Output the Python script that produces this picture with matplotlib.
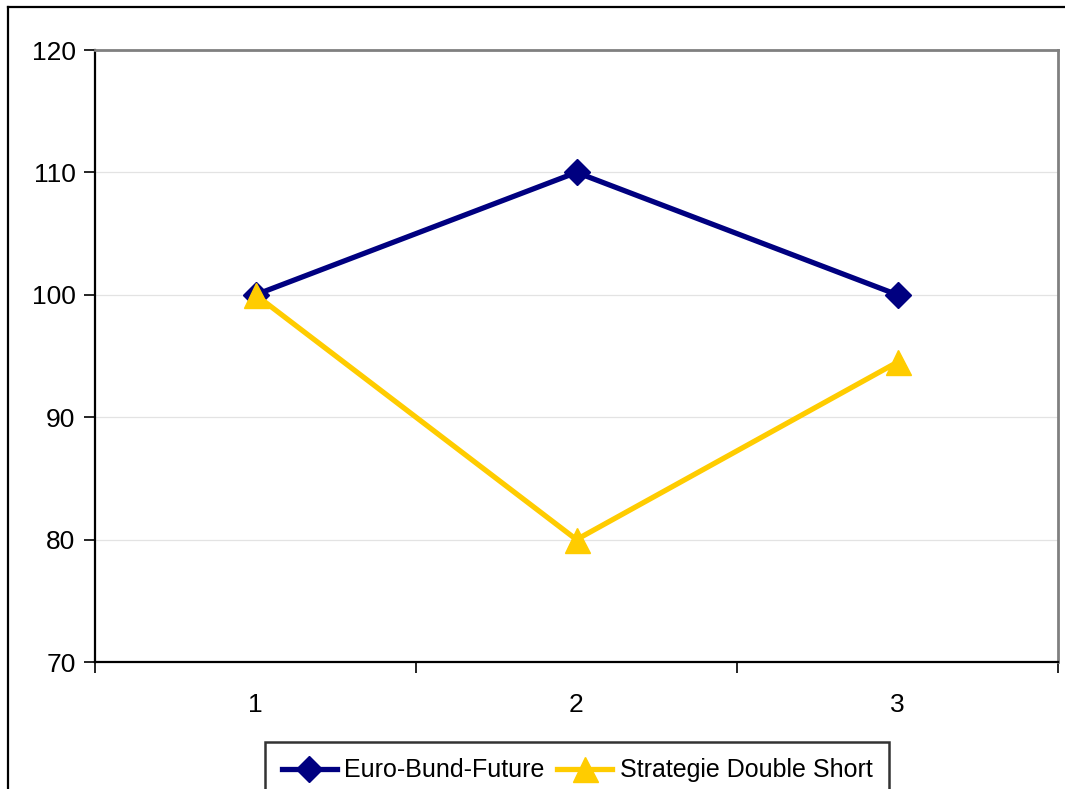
import matplotlib
matplotlib.use("Agg")
import matplotlib.pyplot as plt
from matplotlib.lines import Line2D

plt.rcParams['font.family'] = ['Liberation Sans', 'DejaVu Sans']

# data
categories = [1, 2, 3]
euro_bund = [100, 110, 100]
double_short = [100, 80, 94.5]
labels = ["Euro-Bund-Future", "Strategie Double Short"]
yticks = [70, 80, 90, 100, 110, 120]

fs = 19

fig = plt.figure(figsize=(10.65, 7.89), dpi=100)
ax = fig.add_axes([95/1065, 1-662/789, (1058-95)/1065, (662-50)/789])

ax.plot(categories, euro_bund, color="#000080", lw=3.8, marker="D",
        markersize=13, label=labels[0], zorder=3)
ax.plot(categories, double_short, color="#FFCC00", lw=3.8, marker="^",
        markersize=18, label=labels[1], zorder=3)

ax.set_xlim(0.5, 3.5)
ax.set_ylim(70, 120)
ax.set_yticks(yticks)
ax.set_yticklabels([str(v) for v in yticks], fontsize=fs)
ax.yaxis.grid(True, color="#e3e3e3", lw=0.9)
ax.set_axisbelow(True)

ax.set_xticks([0.5, 1.5, 2.5, 3.5])
ax.set_xticklabels([])
ax.set_xticks(categories, minor=True)
ax.set_xticklabels([str(c) for c in categories], minor=True, fontsize=fs)
ax.tick_params(axis="x", which="major", direction="out", length=8, width=1.2)
ax.tick_params(axis="x", which="minor", length=0, pad=22)
ax.tick_params(axis="y", direction="out", length=8, width=1.2, pad=6)

for s in ["left", "bottom"]:
    ax.spines[s].set_color("black")
    ax.spines[s].set_linewidth(1.6)
for s in ["top", "right"]:
    ax.spines[s].set_color("#808080")
    ax.spines[s].set_linewidth(2)

leg = fig.legend(loc="upper center", bbox_to_anchor=(577/1065, 1-742/789),
                 ncol=2, fontsize=18, frameon=True, fancybox=False,
                 edgecolor="black", handlelength=2.2, columnspacing=0.5,
                 handletextpad=0.3, borderpad=0.65, borderaxespad=0)
leg.get_frame().set_linewidth(1.8)

# outer chart border (left and top visible)
fig.add_artist(Line2D([8/1065, 8/1065], [0, 1-7/789], transform=fig.transFigure,
                      color="black", lw=1.6))
fig.add_artist(Line2D([8/1065, 1], [1-7/789, 1-7/789], transform=fig.transFigure,
                      color="black", lw=1.6))

fig.savefig("out.png", dpi=100)
